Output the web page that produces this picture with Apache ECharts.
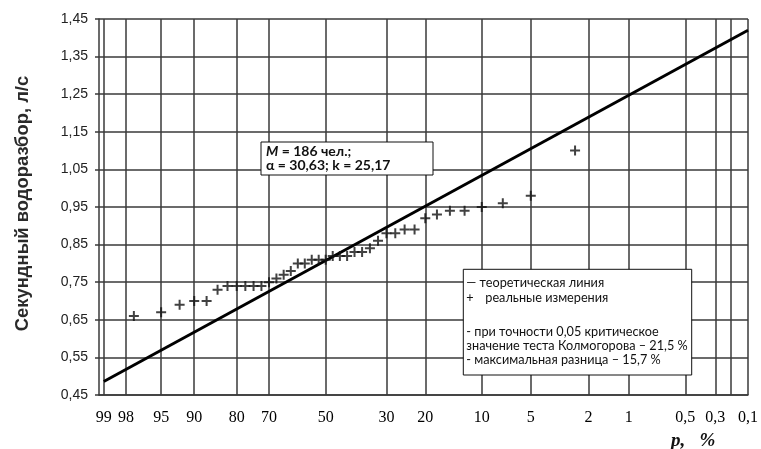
<!DOCTYPE html>
<html><head><meta charset="utf-8">
<script src="https://cdn.jsdelivr.net/npm/echarts@6/dist/echarts.min.js"></script>
<style>html,body{margin:0;padding:0;background:#fff}#c{width:761px;height:449px}</style>
</head><body><div id="c"></div>
<script>
// ---- data ----
// exceedance probability p (%) of each measured value
const measuredP = [97.5, 95, 92.5, 90, 87.5, 85, 82.5, 80, 77.5, 75, 72.5, 70, 67.5, 65, 62.5, 60, 57.5, 55, 52.5, 50,
                   47.5, 45, 42.5, 40, 37.5, 35, 32.5, 30, 27.5, 25, 22.5, 20, 17.5, 15, 12.5, 10, 7.5, 5, 2.5];
// measured peak flow, l/s
const measuredQ = [0.66, 0.67, 0.69, 0.70, 0.70, 0.73, 0.74, 0.74, 0.74, 0.74, 0.74, 0.75, 0.76, 0.77, 0.78, 0.80, 0.80, 0.81, 0.81, 0.81,
                   0.82, 0.82, 0.82, 0.83, 0.83, 0.84, 0.86, 0.88, 0.88, 0.89, 0.89, 0.92, 0.93, 0.94, 0.94, 0.95, 0.96, 0.98, 1.10];
// theoretical line (end points)
const theoryP = [99, 0.1];
const theoryQ = [0.486, 1.42];
// probability paper grid and labels
const gridP  = [99, 98, 95, 90, 80, 70, 50, 30, 20, 10, 5, 2, 1, 0.5, 0.3, 0.2, 0.1];
const labelP = [99, 98, 95, 90, 80, 70, 50, 30, 20, 10, 5, 2, 1, 0.5, 0.3, 0.1];
const yTicks = [0.45, 0.55, 0.65, 0.75, 0.85, 0.95, 1.05, 1.15, 1.25, 1.35, 1.45];
const axisPMin = 99.15, axisPMax = 0.1;

// ---- probability paper scale (Pearson III, Cs = 0.4) ----
function invNorm(p){
  const a=[-3.969683028665376e+01,2.209460984245205e+02,-2.759285104469687e+02,1.383577518672690e+02,-3.066479806614716e+01,2.506628277459239e+00];
  const b=[-5.447609879822406e+01,1.615858368580409e+02,-1.556989798598866e+02,6.680131188771972e+01,-1.328068155288572e+01];
  const c=[-7.784894002430293e-03,-3.223964580411365e-01,-2.400758277161838e+00,-2.549732539343734e+00,4.374664141464968e+00,2.938163982698783e+00];
  const d=[7.784695709041462e-03,3.224671290700398e-01,2.445134137142996e+00,3.754408661907416e+00];
  const pl=0.02425, ph=1-pl; let q,r;
  if(p<pl){q=Math.sqrt(-2*Math.log(p));return (((((c[0]*q+c[1])*q+c[2])*q+c[3])*q+c[4])*q+c[5])/((((d[0]*q+d[1])*q+d[2])*q+d[3])*q+1);}
  if(p<=ph){q=p-0.5;r=q*q;return (((((a[0]*r+a[1])*r+a[2])*r+a[3])*r+a[4])*r+a[5])*q/(((((b[0]*r+b[1])*r+b[2])*r+b[3])*r+b[4])*r+1);}
  q=Math.sqrt(-2*Math.log(1-p));return -(((((c[0]*q+c[1])*q+c[2])*q+c[3])*q+c[4])*q+c[5])/((((d[0]*q+d[1])*q+d[2])*q+d[3])*q+1);
}
const CS = 0.4;
function pearsonK(pct){
  const z = invNorm(1 - pct/100);
  const c = 1 + CS*z/6 - CS*CS/36;
  return 2/CS*(c*c*c - 1);
}
// the printed paper stretches its extreme tail (below 1 %)
const tailP = [1, 0.5, 0.3, 0.2, 0.1];
const tailK = [pearsonK(1), 3.119, 3.385, 3.517, pearsonK(0.1)];
function paperX(p){
  if (p >= 1) return pearsonK(p);
  for (let i = 0; i < tailP.length - 1; i++){
    if (p <= tailP[i] && p >= tailP[i+1]){
      const t = (Math.log(p) - Math.log(tailP[i])) / (Math.log(tailP[i+1]) - Math.log(tailP[i]));
      return tailK[i] + t*(tailK[i+1]-tailK[i]);
    }
  }
  return pearsonK(p);
}
const gridX = gridP.map(paperX);
const labelX = labelP.map(paperX);
function fmtP(v){
  let best = 0, bd = Infinity;
  labelX.forEach((x,i)=>{ const dd = Math.abs(x - v); if (dd < bd){bd = dd; best = i;} });
  return String(labelP[best]).replace('.', ',');
}

const chart = echarts.init(document.getElementById('c'), null, {renderer:'canvas'});
const gridColor = '#3a3a3a';
const legendFont = '12.7px Lato';
const Z = 100;
chart.setOption({
  animation:false,
  backgroundColor:'#fff',
  grid:{left:99, right:12.5, top:19, bottom:54, containLabel:false},
  xAxis:{
    type:'value', min:paperX(axisPMin), max:paperX(axisPMax),
    axisLine:{show:true, onZero:false, lineStyle:{color:gridColor, width:1.5}},
    axisTick:{show:false, customValues:gridX},
    splitLine:{show:true, lineStyle:{color:gridColor, width:1.5}},
    axisLabel:{customValues:labelX, formatter:fmtP, margin:15,
      fontFamily:'Liberation Serif', fontSize:16, color:'#000'}
  },
  yAxis:{
    type:'value', min:0.45, max:1.45,
    axisLine:{show:true, onZero:false, lineStyle:{color:gridColor, width:1.5}},
    axisTick:{show:true, length:4, customValues:yTicks, lineStyle:{color:gridColor, width:1.5}},
    splitLine:{show:true, lineStyle:{color:gridColor, width:1.5}},
    axisLabel:{customValues:yTicks, formatter:v=>v.toFixed(2).replace('.', ','), margin:11,
      fontFamily:'Liberation Sans', fontSize:14, color:'#222'}
  },
  series:[
    {type:'line', name:'теоретическая линия', data:theoryP.map((p,i)=>[paperX(p), theoryQ[i]]),
     symbol:'none', lineStyle:{color:'#000', width:3}, z:5},
    {type:'scatter', name:'реальные измерения', data:measuredP.map((p,i)=>[paperX(p), measuredQ[i]]),
     symbol:'path://M4,0H6V4H10V6H6V10H4V6H0V4H4Z', symbolSize:10,
     itemStyle:{color:'#111'}, z:6}
  ],
  graphic:[
    {type:'text', x:22.7, y:203.5, rotation:Math.PI/2, z:Z,
     style:{text:'Секундный водоразбор, л/с', font:'bold 18.4px "Liberation Sans"', fill:'#2a2a2a', align:'center', verticalAlign:'middle'}},
    {type:'text', x:671, y:441, z:Z,
     style:{text:'p,   %', font:'italic bold 19px "Liberation Serif"', fill:'#111', align:'left', verticalAlign:'middle'}},
    {type:'group', x:261, y:142, children:[
      {type:'rect', z:Z, shape:{x:0, y:0, width:172, height:33}, style:{fill:'#fff', stroke:'#111', lineWidth:1}},
      {type:'text', z:Z+1, x:5, y:2, style:{
        text:'{i|M} = 186 чел.;\nα = 30,63; k = 25,17',
        font:'bold 14px Lato', fill:'#111', verticalAlign:'top', lineHeight:14.3,
        rich:{i:{font:'italic bold 14px Lato', fill:'#111', lineHeight:14.3}}}}
    ]},
    {type:'group', x:463.3, y:269.3, children:[
      {type:'rect', z:Z, shape:{x:0, y:0, width:228.4, height:105.7}, style:{fill:'#fff', stroke:'#111', lineWidth:1}},
      {type:'text', z:Z+1, x:3, y:13.4, style:{text:'— теоретическая линия', font:legendFont, fill:'#111', verticalAlign:'middle'}},
      {type:'text', z:Z+1, x:3, y:28.4, style:{text:'+', font:legendFont, fill:'#111', verticalAlign:'middle'}},
      {type:'text', z:Z+1, x:22, y:28.4, style:{text:'реальные измерения', font:legendFont, fill:'#111', verticalAlign:'middle'}},
      {type:'text', z:Z+1, x:3, y:62.4, style:{text:'- при точности 0,05 критическое', font:legendFont, fill:'#111', verticalAlign:'middle'}},
      {type:'text', z:Z+1, x:3, y:76.7, style:{text:'значение теста Колмогорова – 21,5 %', font:legendFont, fill:'#111', verticalAlign:'middle'}},
      {type:'text', z:Z+1, x:3, y:90.7, style:{text:'- максимальная разница – 15,7 %', font:legendFont, fill:'#111', verticalAlign:'middle'}}
    ]}
  ]
});
</script></body></html>
